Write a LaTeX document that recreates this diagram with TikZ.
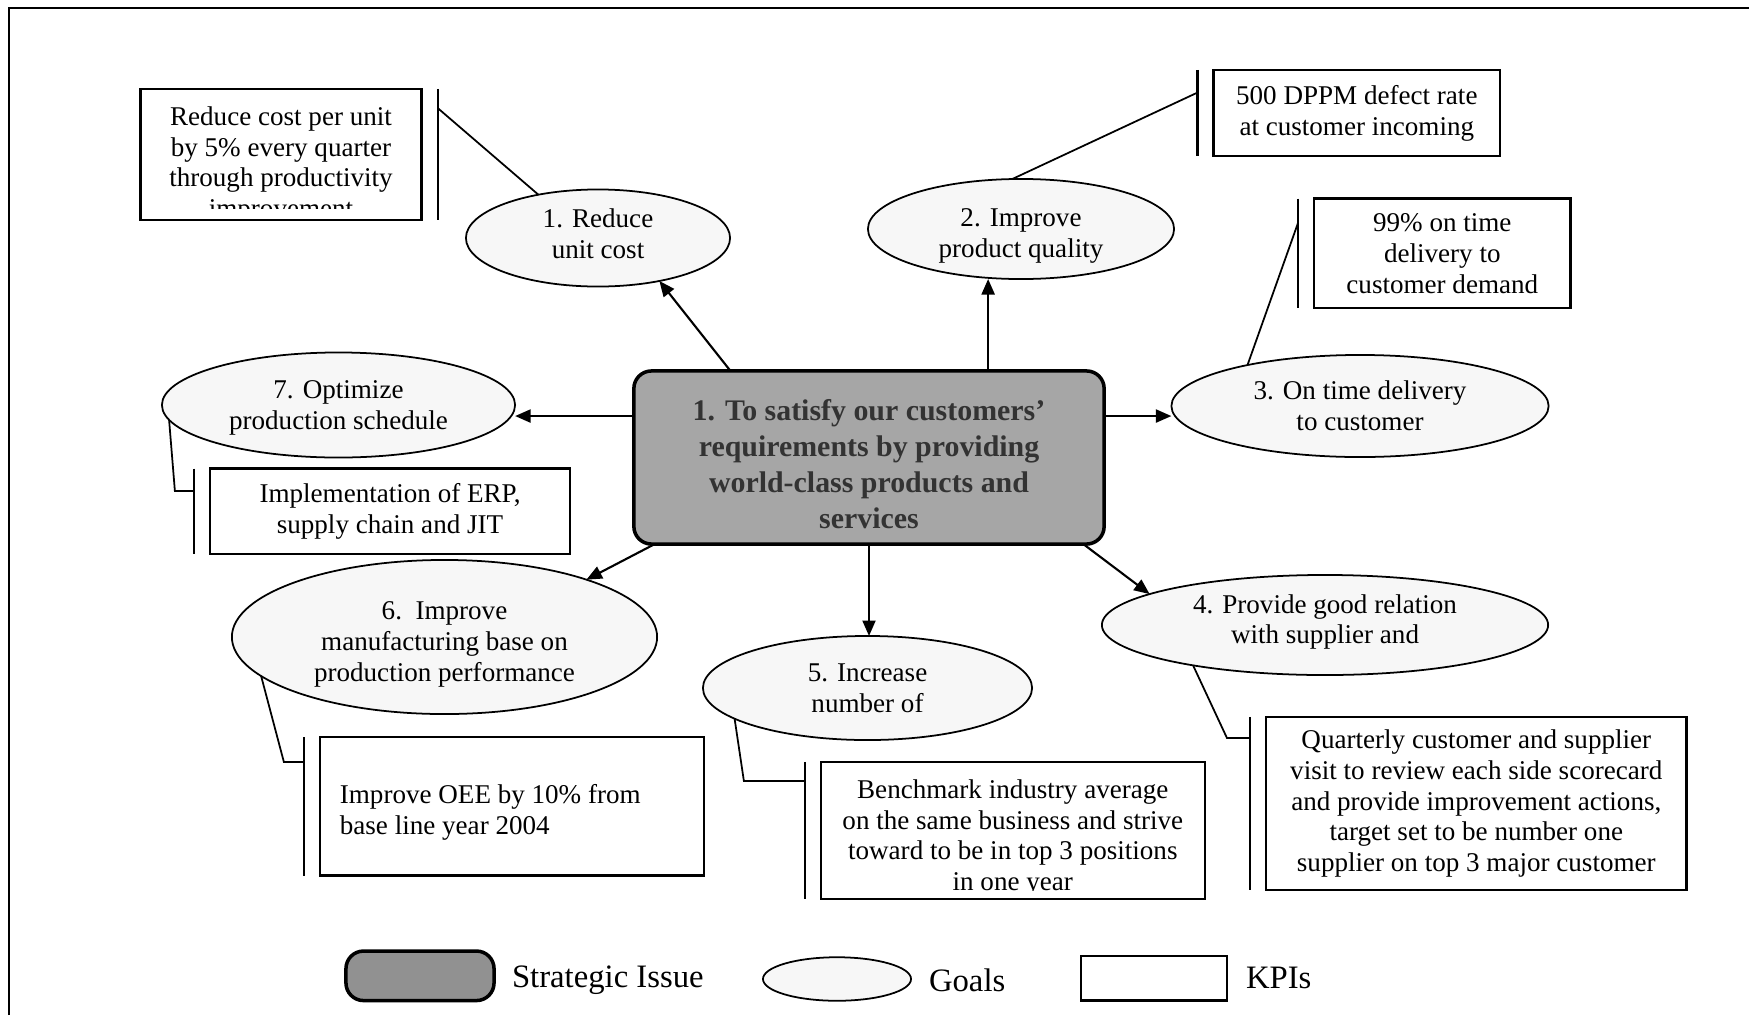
\documentclass[tikz,border=0pt]{standalone}
\usepackage{fontspec}
\setmainfont{Liberation Serif}
\usetikzlibrary{shapes.geometric,arrows.meta,calc}
\begin{document}
\begin{tikzpicture}[x=0.01cm,y=-0.01cm,
  every node/.style={inner sep=0pt, outer sep=0pt},
  txt/.style={font=\fontsize{7.7}{8.8}\selectfont, align=center},
  goal/.style={ellipse, draw, line width=0.5pt, fill=black!3, txt},
  kpi/.style={rectangle, draw, line width=0.7pt, fill=white, txt},
  issue/.style={rectangle, rounded corners=5pt, draw, line width=1pt, fill=black!35},
  issuetext/.style={text=black!80, align=center, font=\bfseries\fontsize{8.5}{10.3}\selectfont},
  bar/.style={line width=0.6pt},
  lead/.style={line width=0.5pt},
  link/.style={line width=0.6pt, -{Triangle[length=4.4pt,width=3.7pt]}},
  legtext/.style={anchor=west, font=\fontsize{9.3}{11}\selectfont},
]
\useasboundingbox (0,0) rectangle (1749,1015);
\fill[white] (0,0) rectangle (1749,1015);

% frame
\draw[line width=0.7pt] (9,1015) -- (9,8) -- (1749,8);

% strategic issue
\node[issue, minimum width=4.70cm, minimum height=1.73cm] (cb) at (869,457.5) {};
\node[issuetext] (cbt) at (869,464)
  {1. To satisfy our customers'\\requirements by providing\\world-class products and\\services};

% goals
\node[goal, minimum width=2.64cm, minimum height=0.97cm] (e1) at (598,238) {};
\node[txt] (e1t) at (598,234) {1. Reduce\\unit cost};
\node[goal, minimum width=3.06cm, minimum height=1.00cm] (e2) at (1021,229) {};
\node[txt] (e2t) at (1021,236) {2. Improve\\product quality};
\node[goal, minimum width=3.77cm, minimum height=1.02cm] (e3) at (1360,406) {3. On time delivery\\to customer};
\node[goal, minimum width=4.46cm, minimum height=1.00cm] (e4) at (1325,625) {};
\node[txt] (e4t) at (1325,622) {4. Provide good relation\\with supplier and};
\node[goal, minimum width=3.29cm, minimum height=1.04cm] (e5) at (867.5,688) {5. Increase\\number of};
\node[goal, minimum width=4.25cm, minimum height=1.54cm] (e6) at (444.5,637) {};
\node[txt] (e6t) at (444.5,644) {6.\ \ Improve\\manufacturing base on\\production performance};
\node[goal, minimum width=3.53cm, minimum height=1.05cm] (e7) at (338.5,405) {};
\node[txt] (e7t) at (338.5,408) {7. Optimize\\production schedule};

% KPIs
\node[kpi, minimum width=2.81cm, minimum height=1.31cm] (b1) at (281,154.5) {};
\begin{scope}
  \clip ($(b1.north west)+(2,2)$) rectangle ($(b1.south east)+(-2,-12)$);
  \node[txt] (t1) at (281,165) {Reduce cost per unit\\by 5\% every quarter\\through productivity\\improvement};
\end{scope}
\node[kpi, minimum width=2.865cm, minimum height=0.86cm] (b2) at (1356.8,113) {500 DPPM defect rate\\at customer incoming};
\node[kpi, minimum width=2.565cm, minimum height=1.095cm] (b3) at (1442.3,253.3) {99\% on time\\delivery to\\customer demand};
\node[kpi, minimum width=4.205cm, minimum height=1.73cm] (b4) at (1476.3,803.5)
  {Quarterly customer and supplier\\visit to review each side scorecard\\and provide improvement actions,\\target set to be number one\\supplier on top 3 major customer};
\node[kpi, minimum width=3.836cm, minimum height=1.37cm] (b5) at (1012.8,830.5) {};
\begin{scope}
  \clip ($(b5.north west)+(2,2)$) rectangle ($(b5.south east)+(-2,-9)$);
  \node[txt] (t5) at (1012.8,838) {Benchmark industry average\\on the same business and strive\\toward to be in top 3 positions\\in one year};
\end{scope}
\node[kpi, minimum width=3.84cm, minimum height=1.385cm] (b6) at (512,806.3) {};
\node[txt, align=left, anchor=west] (t6) at ($(b6.west)+(20,6)$) {Improve OEE by 10\% from\\base line year 2004};
\node[kpi, minimum width=3.60cm, minimum height=0.855cm] (b7) at (390,511.3) {Implementation of ERP,\\supply chain and JIT};

% accent bars beside the KPI boxes
\draw[bar] ($(b1.north east)+(16,0)$) -- ($(b1.south east)+(16,0)$);
\foreach \b in {b2,b3,b4,b5,b6,b7}
  \draw[bar] ($(\b.north west)+(-16,0)$) -- ($(\b.south west)+(-16,0)$);

% leaders from goals to their KPIs
\draw[lead] (e1.144) -- ($(b1.north east)+(16,19)$);
\draw[lead] (e2.100) -- ($(b2.north west)+(-16,22.6)$);
\draw[lead] (e3.160) -- ($(b3.north west)+(-16,24.5)$);
\draw[lead] (e7.185) -- ($(b7.north west)+(-35,22.5)$) -- ($(b7.north west)+(-16,22.5)$);
\draw[lead] (e6.192) -- ($(b6.north west)+(-36,25)$) -- ($(b6.north west)+(-16,25)$);
\draw[lead] (e5.193) -- ($(b5.north west)+(-77,19)$) -- ($(b5.north west)+(-16,19)$);
\draw[lead] (e4.197) -- ($(b4.north west)+(-39,21)$) -- ($(b4.north west)+(-16,21)$);

% arrows from the strategic issue to the goals
\draw[link] (cb.148.6) -- (e1.-35);
\draw[link] (cb.36.5) -- (cb.36.5 |- e2.south);
\draw[link] (cb.10) -- (cb.10 -| e3.west);
\draw[link] (cb.170) -- (cb.170 -| e7.east);
\draw[link] (cb.202.3) -- (e6.22);
\draw[link] (cb.south) -- (cb.south |- e5.north);
\draw[link] (cb.-22.3) -- (e4.170);

% legend
\node[issue, minimum width=1.48cm, minimum height=0.495cm, fill=black!43] (li) at (420,975.8) {};
\node[legtext] (lit) at (512,980) {Strategic Issue};
\node[goal, minimum width=1.48cm, minimum height=0.435cm] (lg) at (837,979) {};
\node[legtext] (lgt) at (929,980) {Goals};
\node[kpi, minimum width=1.46cm, minimum height=0.445cm] (lk) at (1154,978) {};
\node[legtext] (lkt) at (1246,978) {KPIs};
\end{tikzpicture}
\end{document}
